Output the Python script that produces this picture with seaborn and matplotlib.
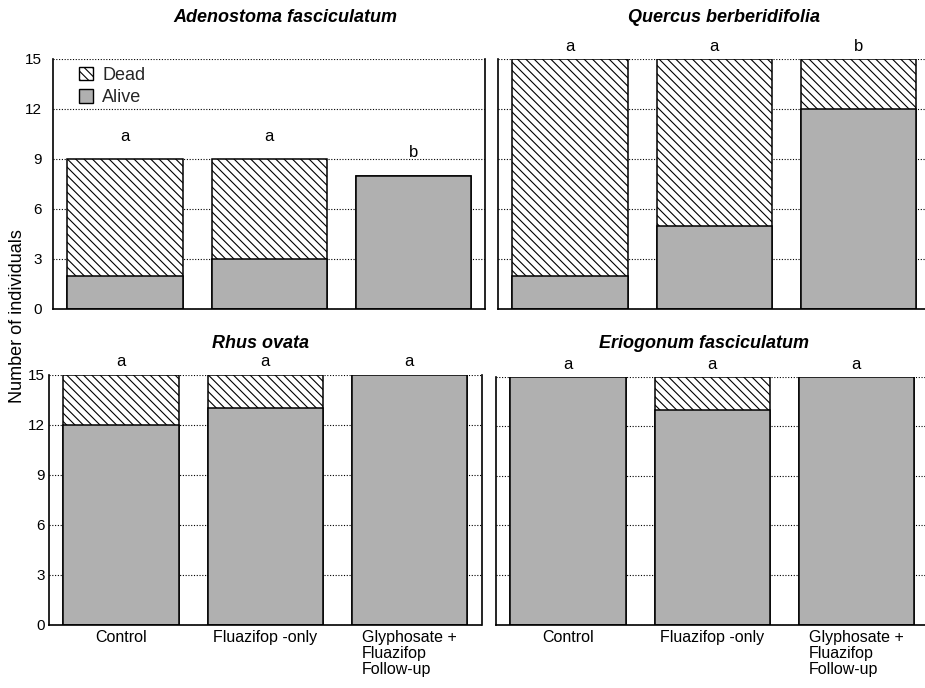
import matplotlib
matplotlib.use("Agg")
import matplotlib.pyplot as plt
from matplotlib.patches import Patch
import seaborn as sns
import pandas as pd

# Survival counts per species and treatment
species = ["Adenostoma fasciculatum", "Quercus berberidifolia",
           "Rhus ovata", "Eriogonum fasciculatum"]
treatments = ["Control", "Fluazifop -only", "Glyphosate +\nFluazifop\nFollow-up"]

adenostoma_alive = [2, 3, 8]
adenostoma_dead = [7, 6, 0]
quercus_alive = [2, 5, 12]
quercus_dead = [13, 10, 3]
rhus_alive = [12, 13, 15]
rhus_dead = [3, 2, 0]
eriogonum_alive = [15, 13, 15]
eriogonum_dead = [0, 2, 0]

adenostoma_letters = ["a", "a", "b"]
quercus_letters = ["a", "a", "b"]
rhus_letters = ["a", "a", "a"]
eriogonum_letters = ["a", "a", "a"]

yticks = [0, 3, 6, 9, 12, 15]

alive = [adenostoma_alive, quercus_alive, rhus_alive, eriogonum_alive]
dead = [adenostoma_dead, quercus_dead, rhus_dead, eriogonum_dead]
letters = [adenostoma_letters, quercus_letters, rhus_letters, eriogonum_letters]

rows = []
for sp, a_vals, d_vals in zip(species, alive, dead):
    for t, a, d in zip(treatments, a_vals, d_vals):
        rows.append({"species": sp, "treatment": t, "alive": a, "dead": d,
                     "total": a + d})
df = pd.DataFrame(rows)

sns.set_theme(style="white")
plt.rcParams["font.family"] = ["Liberation Sans", "DejaVu Sans"]
plt.rcParams["hatch.linewidth"] = 0.8

W, H = 925, 688
fig = plt.figure(figsize=(W / 100, H / 100), dpi=100)

# axes boxes in pixels: left, right, top, bottom
boxes = [(53, 485.5, 59, 309), (498, 930.5, 59, 309),
         (49, 481.5, 374.5, 624.5), (496, 928.5, 376.5, 624.5)]
title_pos = [(285, 17), (724, 18), (260, 343), (704, 343)]
letter_off = [1.1, 0.5, 0.5, 0.45]
ytick_pad = [8, 8, 3, 3]

ALIVE = "#b0b0b0"
HATCH = "\\\\\\\\"

for i, (sp, (l, r, t, b)) in enumerate(zip(species, boxes)):
    ax = fig.add_axes([l / W, 1 - b / H, (r - l) / W, (b - t) / H])
    sub = df[df["species"] == sp]
    sns.barplot(data=sub, x="treatment", y="total", order=treatments,
                color="white", saturation=1, edgecolor="black", linewidth=1.1,
                hatch=HATCH, width=0.8, ax=ax)
    sns.barplot(data=sub, x="treatment", y="alive", order=treatments,
                color=ALIVE, saturation=1, edgecolor="black", linewidth=1.1,
                width=0.8, ax=ax)
    ax.set_xlim(-0.5, 2.5)
    ax.set_ylim(0, 15)
    ax.set_yticks(yticks)
    ax.set_axisbelow(True)
    ax.yaxis.grid(True, color="black", linestyle=(0, (1, 1.5)), linewidth=0.8)
    ax.set_xlabel("")
    ax.set_ylabel("")
    for s in ["left", "bottom", "right"]:
        ax.spines[s].set_visible(True)
        ax.spines[s].set_color("black")
        ax.spines[s].set_linewidth(1.2)
    ax.spines["top"].set_visible(False)
    ax.tick_params(axis="x", length=0, labelsize=11.5, colors="black", pad=4)
    ax.tick_params(axis="y", direction="in", length=5, width=1.0,
                   labelsize=11, colors="black", pad=ytick_pad[i])
    if i % 2 == 1:
        ax.set_yticklabels([])
    if i < 2:
        ax.set_xticklabels([])
    else:
        for lab in ax.get_xticklabels():
            lab.set_multialignment("left")
            lab.set_linespacing(1.1)

    for x, (tot, let) in enumerate(zip(sub["total"], letters[i])):
        ax.text(x, tot + letter_off[i], let, ha="center", va="baseline",
                fontsize=12, color="black")

    tx, ty = title_pos[i]
    fig.text(tx / W, 1 - ty / H, sp, ha="center", va="center",
             fontsize=13, fontweight="bold", fontstyle="italic", color="black")

    if i == 0:
        handles = [Patch(facecolor="white", edgecolor="black", hatch=HATCH,
                         linewidth=1.0, label="Dead"),
                   Patch(facecolor=ALIVE, edgecolor="black", linewidth=1.0,
                         label="Alive")]
        ax.legend(handles=handles, loc="upper left",
                  bbox_to_anchor=(0.03, 1.02), frameon=False, fontsize=13,
                  handlelength=0.8, handleheight=0.8, handletextpad=0.5,
                  labelspacing=0.3, borderaxespad=0.3)

fig.text(17.5 / W, 1 - 316 / H, "Number of individuals", rotation=90,
         ha="center", va="center", fontsize=13, color="black")

fig.savefig("out.png", dpi=100)
